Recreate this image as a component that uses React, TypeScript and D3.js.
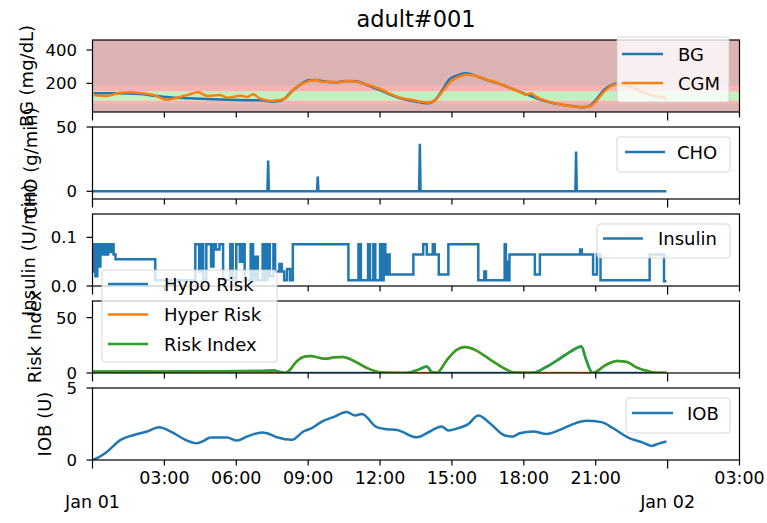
import React from "react";
import * as d3 from "d3";

// ---------- DATA (time in hours from Jan 01 00:00) ----------
const title = "adult#001";

const bgTimes = [0.05, 1.0, 2.0, 2.55, 3.2, 4.0, 5.0, 6.0, 7.0, 7.55, 7.9, 8.3, 8.75, 9.0, 9.3, 9.75, 10.1, 10.6, 11.0, 11.5, 12.0, 12.5, 13.0, 13.5, 13.8, 14.0, 14.3, 14.6, 14.9, 15.3, 15.6, 16.0, 16.5, 17.0, 17.5, 18.0, 18.5, 19.0, 19.5, 20.0, 20.5, 20.8, 21.0, 21.35, 21.7, 22.0, 22.4, 22.9, 23.4, 23.95];
const bgValues = [140, 140, 136, 126, 116, 110, 104, 100, 98, 90, 98, 150, 200, 218, 220, 210, 206, 214, 212, 186, 160, 128, 104, 90, 82, 80, 100, 160, 225, 252, 260, 245, 218, 196, 168, 140, 112, 90, 74, 64, 56, 70, 100, 160, 192, 200, 185, 150, 125, 110];

const cgmTimes = [0.05, 0.6, 1.15, 1.6, 2.3, 2.6, 3.05, 3.3, 3.7, 4.0, 4.4, 4.8, 5.3, 5.65, 6.0, 6.2, 6.45, 6.7, 7.0, 7.5, 7.8, 8.0, 8.5, 9.0, 9.3, 9.6, 10.0, 10.3, 10.6, 11.0, 11.5, 12.0, 12.5, 13.0, 13.3, 13.6, 14.0, 14.3, 14.6, 14.95, 15.3, 15.6, 15.9, 16.3, 16.8, 17.3, 17.8, 18.1, 18.3, 18.5, 19.0, 19.5, 20.0, 20.5, 20.8, 21.0, 21.35, 21.7, 22.0, 22.4, 22.9, 23.4, 23.95];
const cgmValues = [130, 124, 144, 146, 136, 128, 102, 106, 120, 132, 146, 124, 130, 114, 122, 126, 118, 134, 108, 94, 100, 106, 176, 212, 220, 208, 210, 206, 214, 210, 190, 166, 132, 108, 102, 92, 84, 98, 150, 210, 240, 252, 248, 228, 208, 180, 150, 132, 140, 120, 92, 74, 62, 58, 64, 90, 150, 188, 196, 182, 148, 128, 112];

// glucose zones (mg/dL)
const zoneLow = [0, 80, 96, 152, 185];
const zoneHigh = [80, 96, 152, 185, 1000];
const zoneColor = ["darkred", "red", "limegreen", "red", "darkred"];

const choTimes = [0, 7.3, 7.33, 7.36, 9.37, 9.4, 9.43, 13.63, 13.66, 13.69, 20.15, 20.18, 20.21, 23.95];
const choValues = [0, 0, 24, 0, 0, 11.5, 0, 0, 37, 0, 0, 31, 0, 0];

const insTimes = [0.0, 0.06, 0.12, 0.2, 0.26, 0.33, 0.4, 0.47, 0.55, 0.65, 0.72, 0.8, 0.88, 0.96, 2.62, 4.29, 4.45, 4.52, 4.62, 4.75, 4.95, 5.05, 5.15, 5.3, 5.45, 5.75, 5.85, 6.0, 6.15, 6.25, 6.35, 6.6, 6.7, 6.8, 6.9, 7.1, 7.2, 7.3, 7.4, 7.55, 7.62, 7.8, 7.9, 8.0, 8.12, 8.25, 8.36, 10.68, 11.1, 11.2, 11.5, 11.58, 11.72, 11.8, 12.0, 12.08, 12.15, 12.22, 12.3, 12.4, 13.39, 13.8, 13.95, 14.2, 14.28, 14.45, 14.85, 16.1, 16.35, 16.42, 17.2, 17.25, 17.3, 17.33, 17.4, 18.46, 18.67, 20.35, 20.42, 20.89, 21.05, 21.2, 23.25, 23.85, 23.95];
const insValues = [0.03, 0.086, 0.02, 0.086, 0.04, 0.086, 0.065, 0.086, 0.065, 0.086, 0.07, 0.086, 0.065, 0.055, 0.012, 0.086, 0.03, 0.086, 0.012, 0.086, 0.04, 0.086, 0.075, 0.086, 0.012, 0.086, 0.012, 0.086, 0.05, 0.086, 0.012, 0.086, 0.012, 0.06, 0.012, 0.086, 0.012, 0.086, 0.02, 0.086, 0.03, 0.045, 0.03, 0.012, 0.035, 0.012, 0.086, 0.012, 0.086, 0.012, 0.086, 0.012, 0.086, 0.012, 0.086, 0.012, 0.086, 0.0235, 0.065, 0.0235, 0.065, 0.086, 0.065, 0.086, 0.065, 0.0235, 0.086, 0.012, 0.03, 0.012, 0.086, 0.012, 0.05, 0.012, 0.065, 0.0235, 0.065, 0.075, 0.065, 0.0235, 0.065, 0.012, 0.065, 0.01, 0.01];

const riskTimes = [0.0, 2.0, 3.15, 3.25, 5.0, 7.0, 7.55, 7.95, 8.05, 8.2, 8.5, 8.8, 9.1, 9.5, 9.75, 10.1, 10.45, 10.9, 11.4, 11.9, 12.3, 12.9, 13.05, 13.2, 13.6, 13.95, 14.15, 14.3, 14.4, 14.8, 15.2, 15.55, 16.0, 16.6, 17.2, 17.6, 18.3, 18.45, 18.9, 19.5, 20.0, 20.4, 20.6, 20.85, 20.95, 21.4, 21.9, 22.3, 22.7, 23.2, 23.5, 23.95];
const hypoRisk = [0, 0, 0, 1.3, 1.6, 1.8, 2.2, 0.3, 0, 0, 0, 0, 0, 0, 0, 0, 0, 0, 0, 0, 0, 0, 0.1, 0.3, 3, 5.8, 1, 0.2, 0, 0, 0, 0, 0, 0, 0, 0, 0, 0.5, 5, 13, 20, 24, 12, 0.3, 0, 0, 0, 0, 0, 0, 0, 0];
const hyperRisk = [1.3, 1.5, 1.3, 0, 0, 0, 0, 0, 0.3, 2, 10, 14.5, 15.3, 13.5, 12.8, 14.2, 14.5, 11, 5, 1, 0.2, 0.1, 0, 0, 0, 0, 0, 0, 0.5, 12, 21, 23.5, 20.5, 12, 4, 0.5, 0.3, 0, 0, 0, 0, 0, 0, 0, 0.5, 7, 10.8, 10, 5, 1.5, 0.2, 0.2];
const riskIndex = [1.3, 1.5, 1.3, 1.3, 1.6, 1.8, 2.2, 0.3, 0.3, 2, 10, 14.5, 15.3, 13.5, 12.8, 14.2, 14.5, 11, 5, 1, 0.2, 0.1, 0.1, 0.3, 3, 5.8, 1, 0.2, 0.5, 12, 21, 23.5, 20.5, 12, 4, 0.5, 0.3, 0.5, 5, 13, 20, 24, 12, 0.3, 0.5, 7, 10.8, 10, 5, 1.5, 0.2, 0.2];

const iobTimes = [0.0, 0.08, 0.61, 1.17, 1.72, 2.28, 2.76, 2.97, 3.39, 3.875, 4.36, 4.64, 4.92, 5.61, 6.03, 6.45, 7.07, 7.28, 7.7, 8.32, 8.8, 9.15, 9.57, 10.05, 10.61, 10.96, 11.24, 11.86, 12.28, 12.7, 13.53, 14.08, 14.57, 14.85, 15.26, 15.68, 16.1, 16.58, 17.21, 17.55, 17.83, 18.39, 18.95, 19.5, 20.05, 20.61, 21.24, 21.72, 22.35, 22.97, 23.32, 23.6, 23.95];
const iobValues = [0.0, 0.05, 0.58, 1.4, 1.74, 1.98, 2.28, 2.2, 1.86, 1.4, 1.16, 1.33, 1.56, 1.56, 1.35, 1.63, 1.91, 1.86, 1.58, 1.4, 1.98, 2.21, 2.67, 2.98, 3.33, 3.09, 3.19, 2.28, 2.14, 2.09, 1.58, 1.98, 2.33, 2.05, 2.21, 2.49, 3.09, 2.56, 1.7, 1.63, 1.86, 1.98, 1.81, 2.09, 2.49, 2.72, 2.63, 2.21, 1.56, 1.21, 0.98, 1.12, 1.28];

const xTickHours = [0, 3, 6, 9, 12, 15, 18, 21, 24, 27];
const xTickLabels = ["Jan 01", "03:00", "06:00", "09:00", "12:00", "15:00", "18:00", "21:00", "Jan 02", "03:00"];

// ---------- LAYOUT ----------
const W = 767, H = 523;
const L = 92.5, R = 739.5;
const PH = 72;
const TOPS = [40, 127, 214, 301, 388];
const BLUE = "#1f77b4", ORANGE = "#ff7f0e", GREEN = "#2ca02c";
const FONT = "DejaVu Sans, sans-serif";

const x = d3.scaleLinear().domain([0, 27]).range([L, R]);

type Panel = {
  domain: [number, number];
  ticks: number[];
  fmt: (v: number) => string;
  label: string;
  labelX: number;
};

const panels: Panel[] = [
  { domain: [28, 460], ticks: [200, 400], fmt: (v) => String(v), label: "BG (mg/dL)", labelX: 33 },
  { domain: [-6, 50], ticks: [0, 50], fmt: (v) => String(v), label: "CHO (g/min)", labelX: 37 },
  { domain: [0, 0.148], ticks: [0, 0.1], fmt: (v) => v.toFixed(1), label: "Insulin (U/min)", labelX: 35 },
  { domain: [0, 65], ticks: [0, 50], fmt: (v) => String(v), label: "Risk Index", labelX: 41 },
  { domain: [0, 5], ticks: [0, 5], fmt: (v) => String(v), label: "IOB (U)", labelX: 51 },
];

const yScales = panels.map((p, i) => d3.scaleLinear().domain(p.domain).range([TOPS[i] + PH, TOPS[i]]));

function pathOf(ts: number[], vs: number[], y: d3.ScaleLinear<number, number>, curve: d3.CurveFactory) {
  const pts = ts.map((t, i) => [t, vs[i]] as [number, number]);
  return d3.line<[number, number]>().x((d) => x(d[0])).y((d) => y(d[1])).curve(curve)(pts) || "";
}

type LegendItem = { label: string; color: string };
function Legend({ bx, by, bw, bh, rows, hx0, hx1, tx, items }: { bx: number; by: number; bw: number; bh: number; rows: number[]; hx0: number; hx1: number; tx: number; items: LegendItem[] }) {
  return (
    <g>
      <rect x={bx} y={by} width={bw} height={bh} rx={3} fill="white" fillOpacity={0.8} stroke="#cccccc" strokeOpacity={0.8} strokeWidth={1} />
      {items.map((it, i) => (
        <g key={it.label}>
          <line x1={hx0} x2={hx1} y1={rows[i]} y2={rows[i]} stroke={it.color} strokeWidth={2.5} />
          <text x={tx} y={rows[i] + 6.5} fontSize={18} fontFamily={FONT} fill="#000">{it.label}</text>
        </g>
      ))}
    </g>
  );
}

export default function App() {
  const clip = (i: number) => `url(#clip${i})`;
  return (
    <svg width={W} height={H} style={{ display: "block", position: "absolute", left: 0, top: 0 }} fontFamily={FONT}>
      <rect x={0} y={0} width={W} height={H} fill="white" />
      <defs>
        {TOPS.map((t, i) => (
          <clipPath id={`clip${i}`} key={i}>
            <rect x={L} y={t} width={R - L} height={PH} />
          </clipPath>
        ))}
      </defs>

      <text x={(L + R) / 2} y={27} textAnchor="middle" fontSize={22.5} fill="#000">{title}</text>

      {/* BG zones */}
      <g clipPath={clip(0)}>
        {zoneLow.map((lo, i) => {
          const y0 = yScales[0](zoneHigh[i]);
          const y1 = yScales[0](lo);
          return <rect key={i} x={L} y={y0} width={R - L} height={y1 - y0} fill={zoneColor[i]} fillOpacity={0.3} />;
        })}
        <path d={pathOf(bgTimes, bgValues, yScales[0], d3.curveMonotoneX)} fill="none" stroke={BLUE} strokeWidth={2.5} />
        <path d={pathOf(cgmTimes, cgmValues, yScales[0], d3.curveMonotoneX)} fill="none" stroke={ORANGE} strokeWidth={2.5} />
      </g>

      <g clipPath={clip(1)}>
        <path d={pathOf(choTimes, choValues, yScales[1], d3.curveLinear)} fill="none" stroke={BLUE} strokeWidth={2.5} />
      </g>

      <g clipPath={clip(2)}>
        <path d={pathOf(insTimes, insValues, yScales[2], d3.curveStepAfter)} fill="none" stroke={BLUE} strokeWidth={2.5} />
      </g>

      <g clipPath={clip(3)}>
        <path d={pathOf(riskTimes, hypoRisk, yScales[3], d3.curveMonotoneX)} fill="none" stroke={BLUE} strokeWidth={2.5} />
        <path d={pathOf(riskTimes, hyperRisk, yScales[3], d3.curveMonotoneX)} fill="none" stroke={ORANGE} strokeWidth={2.5} />
        <path d={pathOf(riskTimes, riskIndex, yScales[3], d3.curveMonotoneX)} fill="none" stroke={GREEN} strokeWidth={2.5} />
      </g>

      <g clipPath={clip(4)}>
        <path d={pathOf(iobTimes, iobValues, yScales[4], d3.curveMonotoneX)} fill="none" stroke={BLUE} strokeWidth={2.5} />
      </g>

      {/* axes frames, ticks */}
      {panels.map((p, i) => {
        const t = TOPS[i];
        const y = yScales[i];
        return (
          <g key={i}>
            <rect x={L} y={t} width={R - L} height={PH} fill="none" stroke="#000" strokeWidth={1.2} />
            {p.ticks.map((v) => (
              <g key={v}>
                <line x1={L - 6} x2={L} y1={y(v)} y2={y(v)} stroke="#000" strokeWidth={1.2} />
                <text x={77} y={y(v) + 6} textAnchor="end" fontSize={16.5} fill="#000">{p.fmt(v)}</text>
              </g>
            ))}
            {xTickHours.map((h) => (
              <line key={h} x1={x(h)} x2={x(h)} y1={t + PH} y2={t + PH + (h % 24 === 0 ? 8.5 : 5.5)} stroke="#000" strokeWidth={1.2} />
            ))}
            <text transform={`translate(${p.labelX},${t + PH / 2}) rotate(-90)`} textAnchor="middle" fontSize={18} fill="#000">{p.label}</text>
          </g>
        );
      })}

      {/* x tick labels (bottom panel) */}
      {xTickHours.map((h, i) => (
        <text key={h} x={x(h)} y={h % 24 === 0 ? 508 : 484} textAnchor="middle" fontSize={17.5} fill="#000">{xTickLabels[i]}</text>
      ))}

      {/* legends */}
      <Legend bx={617} by={37} bw={112} bh={65} rows={[54, 83]} hx0={622} hx1={663} tx={678} items={[{ label: "BG", color: BLUE }, { label: "CGM", color: ORANGE }]} />
      <Legend bx={617} by={137} bw={113} bh={35} rows={[152]} hx0={625} hx1={665} tx={677} items={[{ label: "CHO", color: BLUE }]} />
      <Legend bx={597} by={224} bw={133} bh={34} rows={[238.5]} hx0={603} hx1={643} tx={658} items={[{ label: "Insulin", color: BLUE }]} />
      <Legend bx={102} by={270} bw={175} bh={92} rows={[284, 314.5, 344]} hx0={108} hx1={148} tx={164} items={[{ label: "Hypo Risk", color: BLUE }, { label: "Hyper Risk", color: ORANGE }, { label: "Risk Index", color: GREEN }]} />
      <Legend bx={626} by={398} bw={104} bh={35} rows={[413]} hx0={632} hx1={673} tx={687} items={[{ label: "IOB", color: BLUE }]} />
    </svg>
  );
}
